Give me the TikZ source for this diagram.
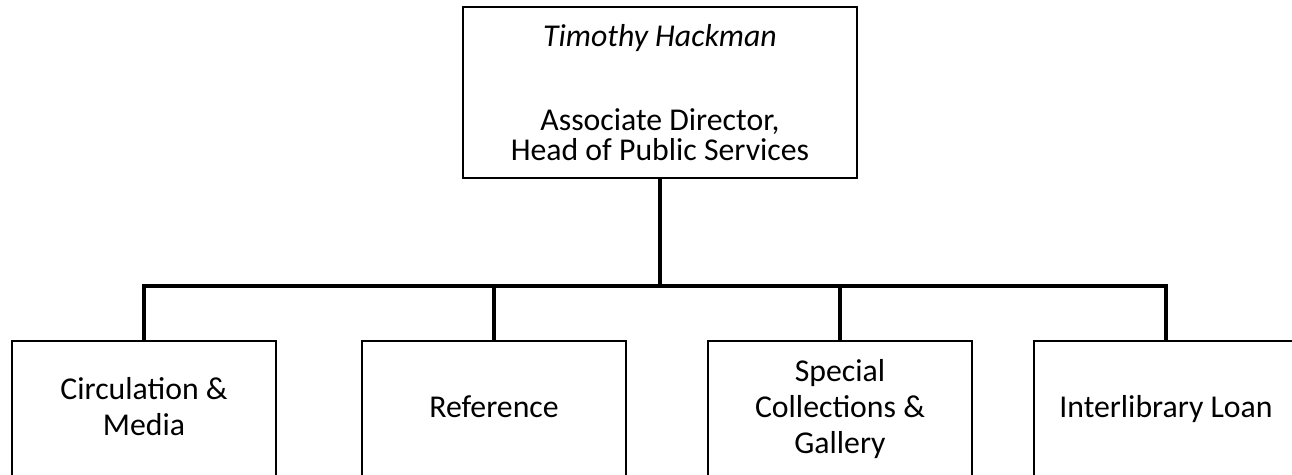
\documentclass[tikz,border=0pt]{standalone}
\usepackage{fontspec}
\setmainfont{Carlito}
\usetikzlibrary{positioning}
\newcommand{\unittext}[1]{\raisebox{0.12cm}{\begin{tabular}{@{}c@{}}#1\end{tabular}}}

\begin{document}
\begin{tikzpicture}[
  chief/.style={draw, line width=1.4pt, minimum width=9.85cm, minimum height=4.275cm, align=center, inner sep=0pt, font=\fontsize{22.6}{21.3}\selectfont},
  unit/.style={draw, line width=1.8pt, minimum width=6.6cm, minimum height=3.475cm, inner sep=0pt, font=\fontsize{22.6}{25.6}\selectfont},
  link/.style={line width=3pt}
]
\useasboundingbox (0,0) rectangle (32.3,11.85);
\node[chief] (ad) at (16.5,9.5375) {\textit{Timothy Hackman}\\[1.35cm]Associate Director,\\Head of Public Services};
\node[unit] (circ) at (3.6,1.5875) {\unittext{Circulation \&\\Media}};
\node[unit] (ref) at (12.35,1.5875) {\unittext{Reference}};
\node[unit] (spec) at (21.0,1.5875) {\unittext{Special\\Collections \&\\Gallery}};
\node[unit] (ill) at (29.15,1.5875) {\unittext{Interlibrary Loan}};
\coordinate (bus) at (16.5,4.7);
\draw[link] (ad.south) -- (bus);
\draw[link] (circ.north) |- (bus) -| (ill.north);
\draw[link] (ref.north) -- (ref.north |- bus);
\draw[link] (spec.north) -- (spec.north |- bus);
\end{tikzpicture}
\end{document}
